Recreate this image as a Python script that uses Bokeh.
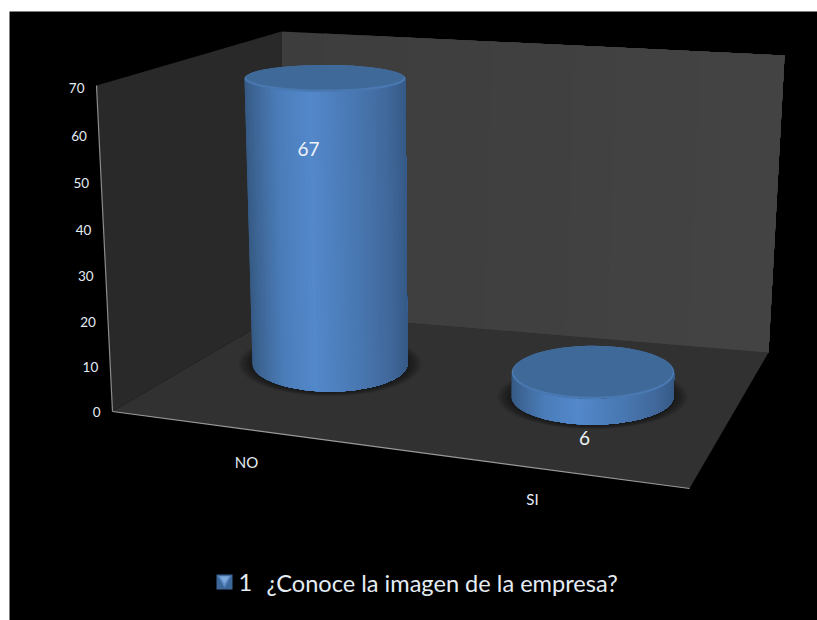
import numpy as np
from bokeh.core.properties import value
from bokeh.embed import file_html
from bokeh.models import Range1d
from bokeh.plotting import figure
from bokeh.resources import INLINE

# Survey answers
categories = ["NO", "SI"]
counts = [67, 6]
y_ticks = [0, 10, 20, 30, 40, 50, 60, 70]
legend_key = "1"
legend_title = "¿Conoce la imagen de la empresa?"

W, H = 817, 620
FONT = value("Lato")
TEXT = "#e4ecf4"

p = figure(width=W, height=H, output_backend="svg", toolbar_location=None,
           x_range=Range1d(0, W), y_range=Range1d(H, 0), min_border=0,
           background_fill_color="white", border_fill_color="white",
           outline_line_color=None)
p.axis.visible = False
p.grid.visible = False


def poly(xs, ys, fill, alpha=1.0):
    p.patch(list(xs), list(ys), fill_color=fill, fill_alpha=alpha, line_color=None)


def hexmix(a, b, t):
    a = [int(a[i:i + 2], 16) for i in (1, 3, 5)]
    b = [int(b[i:i + 2], 16) for i in (1, 3, 5)]
    return "#%02x%02x%02x" % tuple(round(u + (v - u) * t) for u, v in zip(a, b))


# Page background
poly([9, W, W, 9], [11, 11, H, H], "#000000")

# The three faces of the 3D box
poly([96, 281, 281, 112], [85, 31, 312, 411], "#292929")
# back wall, slightly brighter towards the right; each step paints over the rest
wall_steps = 12
for i in range(wall_steps):
    a = i / wall_steps
    poly([281 + 503 * a, 784, 768, 281 + 487 * a],
         [31 + 24 * a, 55, 352, 312 + 40 * a],
         hexmix("#3d3d3d", "#444444", a))
poly([112, 281, 768, 689], [411, 312, 352, 488], "#313131")

# Box edges that carry the axes
p.line([96, 112], [85, 411], line_color="#8c8c8c", line_width=1.2)
p.line([112, 689], [411, 488], line_color="#9a9a9a", line_width=1.2)


def value_axis_y(v):
    # vertical axis foreshortens a little towards its foot
    t = v / 70
    return 411 - 324 * t / (1.045 - 0.045 * t)


def value_axis_x(v):
    return 100 - 16 * v / 70


p.text(x=[value_axis_x(v) for v in y_ticks], y=[value_axis_y(v) for v in y_ticks],
       text=[str(v) for v in y_ticks], text_font=FONT, text_font_size="13.5px",
       text_color=TEXT, text_align="right", text_baseline="middle")

# Floor placement of each cylinder: base centre, base radii, pixels per unit
placement = [
    dict(cx=329.5, cy=363.0, rx=77.5, ry=28.0, unit=4.254, lean=-0.075, label=(308, 148), cat=(246, 461)),
    dict(cx=592.0, cy=396.0, rx=81.0, ry=28.0, unit=4.0, lean=0.08, label=(584, 437), cat=(532, 498)),
]


def side_colour(u):
    stops = [(0.0, "#365a87"), (0.12, "#41699c"), (0.35, "#4a7ab5"),
             (0.6, "#5388cb"), (0.8, "#4a7cb8"), (0.94, "#3e6696"), (1.0, "#365a84")]
    for (u0, c0), (u1, c1) in zip(stops, stops[1:]):
        if u <= u1:
            return hexmix(c0, c1, (u - u0) / (u1 - u0))
    return stops[-1][1]


for count, place, name in zip(counts, placement, categories):
    cx, cy, rx, ry = place["cx"], place["cy"], place["rx"], place["ry"]
    top_cy = cy - place["unit"] * count
    top_cx = cx + place["lean"] * count
    top_rx = rx + 0.045 * count
    top_ry = ry - 0.216 * count

    # soft contact shadow on the floor
    ring = np.linspace(0, 2 * np.pi, 90)
    for k in range(14, 0, -2):
        poly(cx + (rx + k) * np.cos(ring), cy + 0.5 + (ry + k * 0.3) * np.sin(ring),
             "#000000", alpha=0.08)

    # curved side: each band runs through to the right edge and the next one covers it
    theta = np.linspace(np.pi, 0, 61)
    for i in range(len(theta) - 1):
        arc = theta[i:]
        u = 0.5 - 0.5 * np.cos((theta[i] + theta[i + 1]) / 2)
        xs = np.concatenate([top_cx + top_rx * np.cos(arc), (cx + rx * np.cos(arc))[::-1]])
        ys = np.concatenate([top_cy + top_ry * np.sin(arc), (cy + ry * np.sin(arc))[::-1]])
        poly(xs, ys, side_colour(u))

    # top cap with its lighter rim along the near edge
    poly(top_cx + top_rx * np.cos(ring), top_cy + top_ry * np.sin(ring), "#4a79b2")
    poly(top_cx + (top_rx - 1.5) * np.cos(ring), top_cy - 1.2 + (top_ry - 1.2) * np.sin(ring), "#3f6999")

    p.text(x=[place["label"][0]], y=[place["label"][1]], text=[str(count)],
           text_font=FONT, text_font_size="19px", text_color="#eef3f8",
           text_align="center", text_baseline="middle")
    p.text(x=[place["cat"][0]], y=[place["cat"][1]], text=[name],
           text_font=FONT, text_font_size="15px", text_color=TEXT,
           text_align="center", text_baseline="middle")

# Legend key and caption
poly([216, 232, 232, 216], [574, 574, 589, 589], "#3d6699")
poly([217.5, 230.5, 224], [575.5, 575.5, 587], "#5c8cc6")
poly([219.5, 228.5, 224], [576, 576, 583], "#7ea8da")
p.text(x=[238], y=[582], text=[legend_key], text_font=FONT, text_font_size="23.6px",
       text_color=TEXT, text_align="left", text_baseline="middle")
p.text(x=[266], y=[582], text=[legend_title], text_font=FONT, text_font_size="23.6px",
       text_color=TEXT, text_align="left", text_baseline="middle")

open("out.html", "w").write(file_html(p, INLINE))
